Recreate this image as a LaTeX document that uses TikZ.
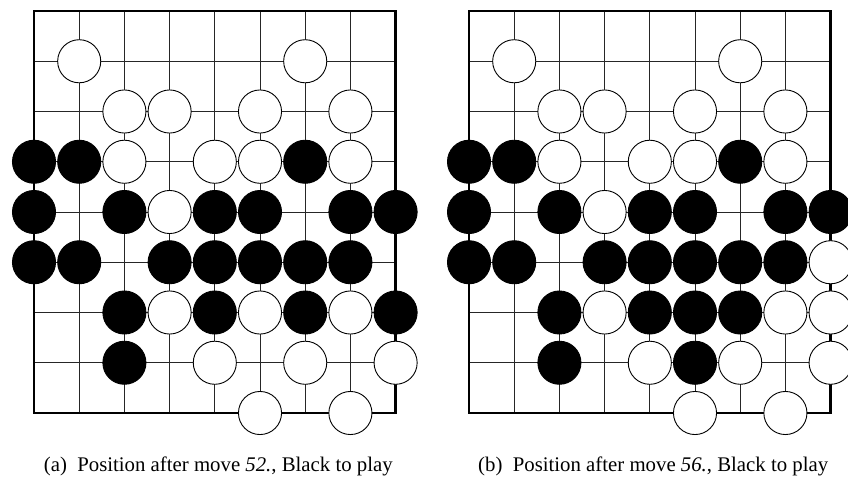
\documentclass[tikz,border=0pt]{standalone}
\usepackage{fontspec}
\setmainfont{Liberation Serif}
\begin{document}
\begin{tikzpicture}[x=1pt,y=-1pt,
  gridline/.style={line width=0.9pt, black!85},
  boardedge/.style={line width=2.5pt, black},
  wstone/.style={circle, draw=black, line width=0.9pt, fill=white, minimum size=43.1pt, inner sep=0pt},
  bstone/.style={circle, draw=black, line width=0.9pt, fill=black, minimum size=43.1pt, inner sep=0pt},
  captext/.style={font=\fontsize{20.8}{24}\selectfont, anchor=base, inner sep=0pt}]
\useasboundingbox (0,0) rectangle (848,477);
\def\dx{45.2}\def\dy{50.25}\def\yo{11}
% ---------- board (a)
\def\xo{34}
\foreach \i in {1,...,7}{
  \draw[gridline] ({\xo+\dx*\i},\yo) -- ({\xo+\dx*\i},{\yo+8*\dy});
  \draw[gridline] (\xo,{\yo+\dy*\i}) -- ({\xo+8*\dx},{\yo+\dy*\i});
}
\draw[boardedge] (\xo,\yo) rectangle ({\xo+8*\dx},{\yo+8*\dy});
\foreach \c/\r in {1/1,6/1,2/2,3/2,5/2,7/2,2/3,4/3,5/3,7/3,3/4,3/6,5/6,7/6,4/7,6/7,8/7,5/8,7/8}
  \node[wstone] (a-\c-\r) at ({\xo+\dx*\c},{\yo+\dy*\r}) {};
\foreach \c/\r in {0/3,1/3,6/3,0/4,2/4,4/4,5/4,7/4,8/4,0/5,1/5,3/5,4/5,5/5,6/5,7/5,2/6,4/6,6/6,8/6,2/7}
  \node[bstone] (a-\c-\r) at ({\xo+\dx*\c},{\yo+\dy*\r}) {};
\node[captext] (capa) at (218.3,471) {(a)\hspace{0.5em}Position after move \textit{52.}, Black to play};
% ---------- board (b)
\def\xo{469}
\foreach \i in {1,...,7}{
  \draw[gridline] ({\xo+\dx*\i},\yo) -- ({\xo+\dx*\i},{\yo+8*\dy});
  \draw[gridline] (\xo,{\yo+\dy*\i}) -- ({\xo+8*\dx},{\yo+\dy*\i});
}
\draw[boardedge] (\xo,\yo) rectangle ({\xo+8*\dx},{\yo+8*\dy});
\foreach \c/\r in {1/1,6/1,2/2,3/2,5/2,7/2,2/3,4/3,5/3,7/3,3/4,8/5,3/6,7/6,8/6,4/7,6/7,8/7,5/8,7/8}
  \node[wstone] (b-\c-\r) at ({\xo+\dx*\c},{\yo+\dy*\r}) {};
\foreach \c/\r in {0/3,1/3,6/3,0/4,2/4,4/4,5/4,7/4,8/4,0/5,1/5,3/5,4/5,5/5,6/5,7/5,2/6,4/6,5/6,6/6,2/7,5/7}
  \node[bstone] (b-\c-\r) at ({\xo+\dx*\c},{\yo+\dy*\r}) {};
\node[captext] (capb) at (653.2,471) {(b)\hspace{0.5em}Position after move \textit{56.}, Black to play};
\end{tikzpicture}
\end{document}
